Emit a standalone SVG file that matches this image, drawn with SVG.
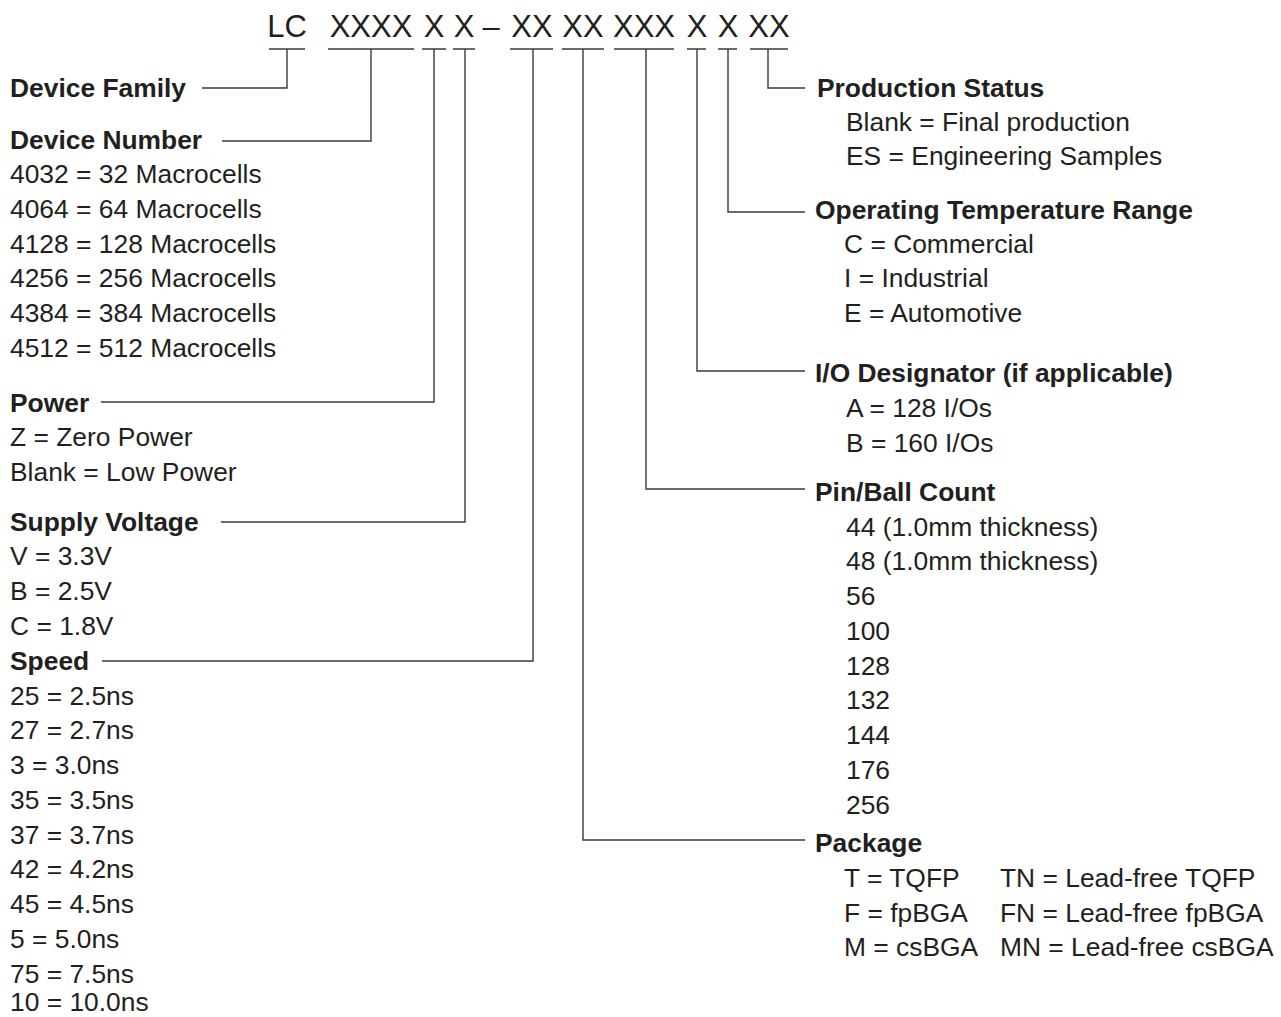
<svg xmlns="http://www.w3.org/2000/svg" width="1281" height="1017" viewBox="0 0 1281 1017">
<style>
text{font-family:"Liberation Sans",Arial,Helvetica,sans-serif;fill:#231f20;font-size:26.4px}
.b{font-weight:bold}
.code{font-size:31px;text-anchor:middle}
.bar{stroke:#3a3a3a;stroke-width:1.5;fill:none}
.conn path{stroke:#3a3a3a;stroke-width:1.4;fill:none}
</style>
<rect width="1281" height="1017" fill="#ffffff"/>
<g id="code">
<text class="code" x="287" y="37">LC</text>
<text class="code" x="371" y="37">XXXX</text>
<text class="code" x="434" y="37">X</text>
<text class="code" x="464" y="37">X</text>
<text class="code" x="491" y="37">–</text>
<text class="code" x="532" y="37">XX</text>
<text class="code" x="583" y="37">XX</text>
<text class="code" x="644" y="37">XXX</text>
<text class="code" x="697" y="37">X</text>
<text class="code" x="728" y="37">X</text>
<text class="code" x="769" y="37">XX</text>
<path class="bar" d="M269,49H305M328,49H414M422,49H446M453,49H475M510,49H553M562,49H604M614,49H674M687,49H706M718,49H737M750,49H788"/>
</g>
<g id="connectors" class="conn">
<path d="M287,49V88H202"/>
<path d="M371,49V141H222"/>
<path d="M434,49V402H101"/>
<path d="M465,49V522H221"/>
<path d="M533,49V661H102"/>
<path d="M583,49V840H805"/>
<path d="M646,49V489H805"/>
<path d="M697,49V371H805"/>
<path d="M728,49V212H805"/>
<path d="M768,49V88H805"/>
</g>
<g id="device-family"><text class="b" x="10" y="96.5">Device Family</text></g>
<g id="device-number">
<text class="b" x="10" y="148.5">Device Number</text>
<text x="10" y="183">4032 = 32 Macrocells</text>
<text x="10" y="217.8">4064 = 64 Macrocells</text>
<text x="10" y="252.5">4128 = 128 Macrocells</text>
<text x="10" y="287.3">4256 = 256 Macrocells</text>
<text x="10" y="322">4384 = 384 Macrocells</text>
<text x="10" y="356.8">4512 = 512 Macrocells</text>
</g>
<g id="power">
<text class="b" x="10" y="411.5">Power</text>
<text x="10" y="446.3">Z = Zero Power</text>
<text x="10" y="481">Blank = Low Power</text>
</g>
<g id="supply-voltage">
<text class="b" x="10" y="530.5">Supply Voltage</text>
<text x="10" y="565.3">V = 3.3V</text>
<text x="10" y="600">B = 2.5V</text>
<text x="10" y="634.8">C = 1.8V</text>
</g>
<g id="speed">
<text class="b" x="10" y="670">Speed</text>
<text x="10" y="704.5">25 = 2.5ns</text>
<text x="10" y="739.3">27 = 2.7ns</text>
<text x="10" y="774">3 = 3.0ns</text>
<text x="10" y="808.8">35 = 3.5ns</text>
<text x="10" y="843.5">37 = 3.7ns</text>
<text x="10" y="878.3">42 = 4.2ns</text>
<text x="10" y="913">45 = 4.5ns</text>
<text x="10" y="947.8">5 = 5.0ns</text>
<text x="10" y="982.5">75 = 7.5ns</text>
<text x="10" y="1011">10 = 10.0ns</text>
</g>
<g id="production-status">
<text class="b" x="817" y="96.5">Production Status</text>
<text x="846" y="130.5">Blank = Final production</text>
<text x="846" y="165.3">ES = Engineering Samples</text>
</g>
<g id="temperature">
<text class="b" x="815" y="218.5">Operating Temperature Range</text>
<text x="844" y="252.5">C = Commercial</text>
<text x="844" y="287.3">I = Industrial</text>
<text x="844" y="322">E = Automotive</text>
</g>
<g id="io-designator">
<text class="b" x="815" y="382">I/O Designator (if applicable)</text>
<text x="846" y="417">A = 128 I/Os</text>
<text x="846" y="451.5">B = 160 I/Os</text>
</g>
<g id="pin-count">
<text class="b" x="815" y="501">Pin/Ball Count</text>
<text x="846" y="535.5">44 (1.0mm thickness)</text>
<text x="846" y="570.3">48 (1.0mm thickness)</text>
<text x="846" y="605">56</text>
<text x="846" y="639.8">100</text>
<text x="846" y="674.5">128</text>
<text x="846" y="709.3">132</text>
<text x="846" y="744">144</text>
<text x="846" y="778.8">176</text>
<text x="846" y="813.5">256</text>
</g>
<g id="package">
<text class="b" x="815" y="852">Package</text>
<text x="844" y="887">T = TQFP</text>
<text x="1000" y="887">TN = Lead-free TQFP</text>
<text x="844" y="921.5">F = fpBGA</text>
<text x="1000" y="921.5">FN = Lead-free fpBGA</text>
<text x="844" y="956.3">M = csBGA</text>
<text x="1000" y="956.3">MN = Lead-free csBGA</text>
</g>
</svg>
